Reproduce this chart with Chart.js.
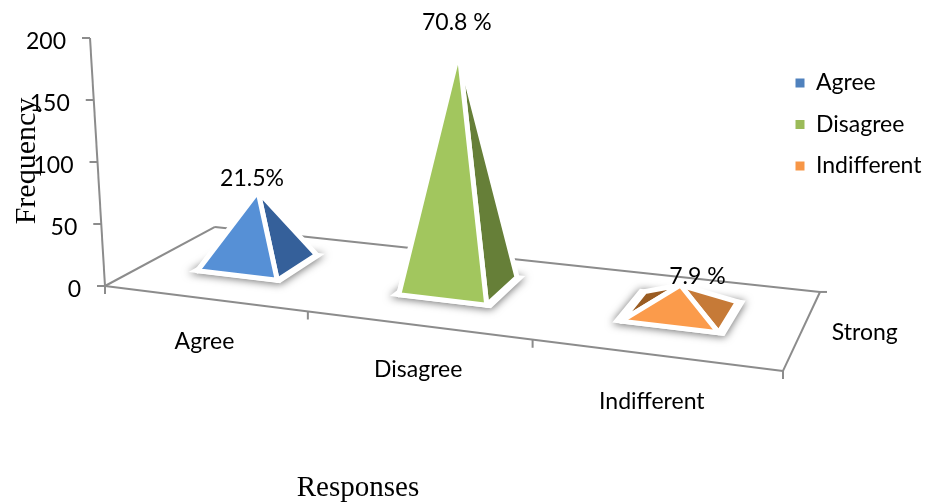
<!DOCTYPE html>
<html lang="en">
<head>
    <meta charset="UTF-8">
    <title>Responses</title>
    <script src="https://cdn.jsdelivr.net/npm/chart.js"></script>
    <style>
        html, body { margin: 0; background: #fff; }
        #box { width: 926px; height: 504px; }
    </style>
</head>
<body>
    <div id="box"><canvas id="chart"></canvas></div>
    <script>
        const categories = ['Agree', 'Disagree', 'Indifferent'];
        const percentValues = [21.5, 70.8, 7.9];
        const percentLabels = ['21.5%', '70.8 %', '7.9 %'];
        const seriesName = 'Strong';
        const yTicks = [0, 50, 100, 150, 200];
        const respondents = 268;

        const frontColors = ['#5690d6', '#a2c65e', '#fb9b4b'];
        const sideColors = ['#35609a', '#667f38', '#c67a37'];
        const backColors = ['#2b4f80', '#55692e', '#9a5c22'];
        const legendColors = ['#4f81bd', '#9bbb59', '#f79646'];

        const axisColor = '#8c8c8c';
        const textFont = 'Lato';
        const titleFont = '"Liberation Serif"';

        // floor of the 3D box in axis units: front-left, front-right, back-right, back-left
        const floorCorners = [[105, 0], [783, -68.5], [820, -4.8], [215, 47.6]];
        const yAxisTop = [90, 200];

        // offsets in px for the text placed around the box
        const percentOffsets = [[-6, -13], [-2, -28], [17, -8]];
        const categoryOffsets = [[-2, 43], [-2, 44], [-6, 46]];

        // projective map from the unit square to the floor
        const [p0, p1, p2, p3] = floorCorners;
        const den = (p1[0] - p2[0]) * (p3[1] - p2[1]) - (p3[0] - p2[0]) * (p1[1] - p2[1]);
        const sx = p0[0] - p1[0] + p2[0] - p3[0];
        const sy = p0[1] - p1[1] + p2[1] - p3[1];
        const g = (sx * (p3[1] - p2[1]) - (p3[0] - p2[0]) * sy) / den;
        const h = ((p1[0] - p2[0]) * sy - sx * (p1[1] - p2[1])) / den;

        const floorPoint = (u, d) => {
            const w = 1 + g * u + h * d;
            return {
                x: ((p1[0] - p0[0] + g * p1[0]) * u + (p3[0] - p0[0] + h * p3[0]) * d + p0[0]) / w,
                y: ((p1[1] - p0[1] + g * p1[1]) * u + (p3[1] - p0[1] + h * p3[1]) * d + p0[1]) / w
            };
        };

        const lineSet = (points) => ({
            data: points, showLine: true, pointRadius: 0, fill: false,
            borderColor: axisColor, borderWidth: 2, clip: false
        });

        const faceSet = (points, color, extra) => Object.assign({
            data: [...points, points[0]], showLine: true, pointRadius: 0,
            backgroundColor: color, fill: 'shape',
            borderColor: '#fff', borderWidth: 5, borderCapStyle: 'round'
        }, extra);

        // paint order, first entry goes to the bottom
        const layers = [];

        // floor outline
        layers.push(lineSet([floorPoint(0, 1), floorPoint(1, 1)]));
        layers.push(lineSet([floorPoint(0, 0), floorPoint(0, 1)]));
        layers.push(lineSet([floorPoint(0, 0), floorPoint(1, 0)]));
        layers.push(lineSet([floorPoint(1, 0), floorPoint(1, 1)]));

        // value axis with its ticks, leaning along the box edge
        const axisX = (v) => p0[0] + (yAxisTop[0] - p0[0]) * v / yAxisTop[1];
        layers.push(lineSet([{ x: p0[0], y: 0 }, { x: yAxisTop[0], y: yAxisTop[1] }]));
        yTicks.forEach(v => layers.push(lineSet([{ x: axisX(v) - 8, y: v }, { x: axisX(v), y: v }])));

        // category ticks along the front edge, and one on the depth edge
        [0, 1, 2, 3].forEach(i => {
            const p = floorPoint(i / 3, 0);
            layers.push(lineSet([p, { x: p.x, y: p.y - 6.5 }]));
        });
        const backTick = floorPoint(1, 1);
        layers.push(lineSet([backTick, { x: backTick.x + 7, y: backTick.y }]));

        // pyramids
        percentValues.forEach((pct, i) => {
            const cu = (i + 0.5) / 3 - 0.006;
            const cd = 0.54;
            const corners = (du, dd) => [
                floorPoint(cu - du, cd - dd), floorPoint(cu + du, cd - dd),
                floorPoint(cu + du, cd + dd), floorPoint(cu - du, cd + dd)
            ];
            const base = corners(0.068, 0.205);
            const centre = floorPoint(cu, cd);
            const apex = { x: centre.x, y: centre.y + pct / 100 * respondents };

            layers.push(faceSet(corners(0.078, 0.235), '#fff', { plate: true, borderWidth: 0 }));
            layers.push(faceSet([base[0], base[3], apex], backColors[i]));
            layers.push(faceSet([base[1], base[2], apex], sideColors[i]));
            layers.push(faceSet([base[0], base[1], apex], frontColors[i]));
        });

        const boxPlugin = {
            id: 'boxPlugin',
            afterLayout(chart) {
                // the value labels follow the leaning axis
                const y = chart.scales.y;
                const x = chart.scales.x;
                y.getLabelItems().forEach(item => {
                    const v = Number(item.label);
                    item.options.textAlign = 'right';
                    item.options.translation[0] = x.getPixelForValue(axisX(v)) - 24;
                    item.options.translation[1] = y.getPixelForValue(v) + 3.5;
                });
                const legend = chart.legend;
                legend.left = 777;
                legend.top = 53;
                legend.adjustHitBoxes();
            },
            beforeDatasetDraw(chart, args) {
                if (!chart.data.datasets[args.index].plate) return;
                const ctx = chart.ctx;
                const pts = args.meta.data;
                ctx.save();
                ctx.shadowColor = 'rgba(0, 0, 0, 0.6)';
                ctx.shadowBlur = 8;
                ctx.shadowOffsetX = 0;
                ctx.shadowOffsetY = 1;
                ctx.fillStyle = '#fff';
                ctx.beginPath();
                pts.forEach((p, n) => n ? ctx.lineTo(p.x, p.y) : ctx.moveTo(p.x, p.y));
                ctx.closePath();
                ctx.fill();
                ctx.restore();
            },
            afterDatasetsDraw(chart) {
                const { ctx, scales: { x, y } } = chart;
                const px = (p) => [x.getPixelForValue(p.x), y.getPixelForValue(p.y)];
                ctx.save();
                ctx.fillStyle = '#000';
                ctx.textAlign = 'center';
                ctx.textBaseline = 'middle';
                ctx.font = '23px ' + textFont;

                percentLabels.forEach((label, i) => {
                    const cu = (i + 0.5) / 3 - 0.006;
                    const c = floorPoint(cu, 0.54);
                    const [ax, ay] = px({ x: c.x, y: c.y + percentValues[i] / 100 * respondents });
                    ctx.fillText(label, ax + percentOffsets[i][0], ay + percentOffsets[i][1]);
                });

                categories.forEach((label, i) => {
                    const a = px(floorPoint(i / 3, 0));
                    const b = px(floorPoint((i + 1) / 3, 0));
                    ctx.fillText(label, (a[0] + b[0]) / 2 + categoryOffsets[i][0],
                        (a[1] + b[1]) / 2 + categoryOffsets[i][1]);
                });

                const [rx, ry] = px(floorPoint(1, 0.5));
                ctx.fillText(seriesName, rx + 62, ry + 4);

                ctx.font = '29px ' + titleFont;
                ctx.fillText('Responses', 358, 488);

                ctx.translate(34.5, 161);
                ctx.rotate(-Math.PI / 2);
                ctx.textBaseline = 'alphabetic';
                ctx.font = '30px ' + titleFont;
                ctx.fillText('Frequency', 0, 0);
                ctx.restore();
            }
        };

        new Chart(document.getElementById('chart'), {
            type: 'scatter',
            data: { datasets: layers.reverse() },
            options: {
                responsive: true,
                maintainAspectRatio: false,
                animation: false,
                layout: { padding: { top: 38 } },
                scales: {
                    x: { type: 'linear', display: false, min: 70, max: 796 },
                    y: {
                        type: 'linear',
                        min: -175.8,
                        max: 200,
                        grid: { display: false },
                        border: { display: false },
                        afterBuildTicks: (scale) => { scale.ticks = yTicks.map(value => ({ value })); },
                        afterFit: (scale) => {
                            scale.width = 70;
                            scale.paddingTop = 0;
                            scale.paddingBottom = 0;
                        },
                        ticks: { color: '#000', mirror: true, font: { family: textFont, size: 23 } }
                    }
                },
                plugins: {
                    tooltip: { enabled: false },
                    legend: {
                        position: 'right',
                        align: 'start',
                        maxWidth: 130,
                        labels: {
                            boxWidth: 9,
                            boxHeight: 9,
                            padding: 18.5,
                            color: '#000',
                            font: { family: textFont, size: 23 },
                            generateLabels: () => categories.map((text, i) => ({
                                text, fillStyle: legendColors[i], strokeStyle: legendColors[i],
                                lineWidth: 0, hidden: false, datasetIndex: 0
                            }))
                        }
                    }
                }
            },
            plugins: [boxPlugin]
        });
    </script>
</body>
</html>
